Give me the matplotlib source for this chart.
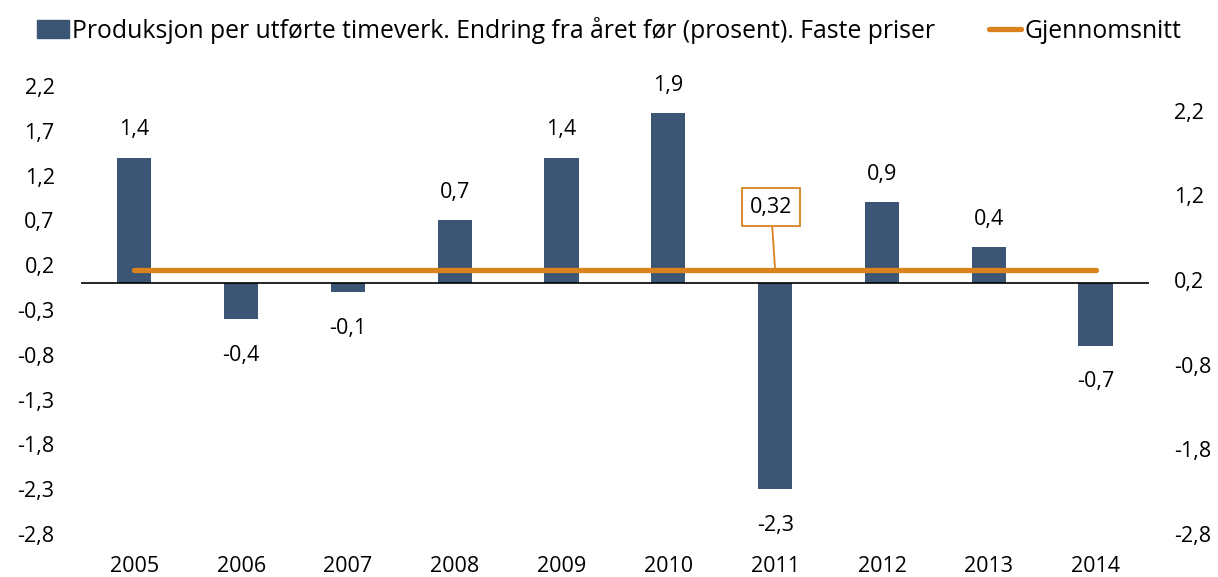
import numpy as np
import matplotlib
matplotlib.use('Agg')
import matplotlib.pyplot as plt
from matplotlib.patches import Patch
from matplotlib.lines import Line2D

plt.rcParams['font.family'] = ['Open Sans', 'DejaVu Sans']

years = ['2005', '2006', '2007', '2008', '2009', '2010', '2011', '2012', '2013', '2014']
growth = [1.4, -0.4, -0.1, 0.7, 1.4, 1.9, -2.3, 0.9, 0.4, -0.7]
average = 0.32
left_ticks = [2.2, 1.7, 1.2, 0.7, 0.2, -0.3, -0.8, -1.3, -1.8, -2.3, -2.8]
right_ticks = [2.2, 1.2, 0.2, -0.8, -1.8, -2.8]

bar_color = '#3B5675'
line_color = '#D9821E'
fs = 15.5

def comma(v, nd=1):
    return f'{v:.{nd}f}'.replace('.', ',')

fig = plt.figure(figsize=(12.18, 5.77), dpi=100)
ax = fig.add_axes([0.0665, 0.0745, 0.8768, 0.7765])
x = np.arange(len(years))
ax.bar(x, growth, width=0.32, color=bar_color, zorder=2)
ax.axhline(0, color='black', lw=1.2, zorder=3)
ax.set_xlim(-0.5, len(years) - 0.5)
ax.set_ylim(-2.8, 2.2)
ax.set_yticks(left_ticks)
ax.set_yticklabels([comma(t) for t in left_ticks])
ax.set_xticks(x)
ax.set_xticklabels(years)
ax.tick_params(axis='both', length=0, labelsize=fs)
ax.tick_params(axis='y', pad=19)
ax.tick_params(axis='x', pad=16)
for s in ax.spines.values():
    s.set_visible(False)

for xi, v in zip(x, growth):
    off = 20 if v >= 0 else -26
    ax.annotate(comma(v), (xi, v), xytext=(0, off), textcoords='offset points',
                ha='center', va='center', fontsize=fs)

ax2 = ax.twinx()
ax2.set_ylim(-2.8, 2.49)
ax2.set_yticks(right_ticks)
ax2.set_yticklabels([comma(t) for t in right_ticks])
ax2.tick_params(axis='y', length=0, labelsize=fs, pad=18)
for s in ax2.spines.values():
    s.set_visible(False)
ax2.plot([x[0], x[-1]], [average, average], color=line_color, lw=3.8,
         solid_capstyle='round', zorder=4)
ax2.annotate(comma(average, 2), (6.0, average), xytext=(5.96, 1.06),
             textcoords='data', ha='center', va='center', fontsize=fs,
             bbox=dict(boxstyle='square,pad=0.38', fc='white', ec=line_color, lw=1.3),
             arrowprops=dict(arrowstyle='-', color=line_color, lw=1.3,
                             shrinkA=0, shrinkB=0))

handles = [Patch(color=bar_color),
           Line2D([0], [0], color=line_color, lw=3.8, solid_capstyle='round')]
labels = ['Produksjon per utførte timeverk. Endring fra året før (prosent). Faste priser',
          'Gjennomsnitt']
fig.legend(handles, labels, loc='center', bbox_to_anchor=(0.5, 0.948), ncol=2,
           frameon=False, fontsize=17.8, handlelength=1.3, handletextpad=0.12,
           columnspacing=2.2)

fig.savefig('out.png', dpi=100)
